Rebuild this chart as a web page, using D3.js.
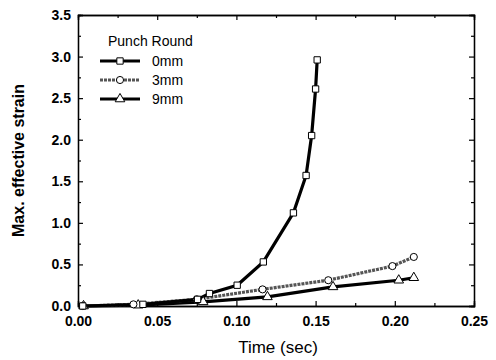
<!DOCTYPE html>
<html>
  <head>
    <meta charset="utf-8">
    <script src="https://cdn.jsdelivr.net/npm/d3@7"></script>
    <style>
      body { margin: 0; background: #fff; }
      text { font-family: "Liberation Sans", Arial, sans-serif; }
    </style>
  </head>
  <body>
    <script>
      // Data: [time (sec), max. effective strain]
      var seriesNames = ["0mm", "3mm", "9mm"];
      var punch0 = [[0.003, 0], [0.041, 0.02], [0.0755, 0.08], [0.083, 0.15],
                    [0.1005, 0.25], [0.117, 0.53], [0.136, 1.12], [0.144, 1.57],
                    [0.1475, 2.05], [0.150, 2.61], [0.151, 2.96]];
      var punch3 = [[0.003, 0], [0.035, 0.02], [0.075, 0.08], [0.1165, 0.20],
                    [0.158, 0.31], [0.1985, 0.48], [0.212, 0.59]];
      var punch9 = [[0.0035, 0], [0.038, 0.01], [0.079, 0.05], [0.1196, 0.11],
                    [0.161, 0.23], [0.2025, 0.31], [0.212, 0.34]];
      var xTicks = [0, 0.05, 0.10, 0.15, 0.20, 0.25];
      var yTicks = [0, 0.5, 1.0, 1.5, 2.0, 2.5, 3.0, 3.5];

      var width = 496, height = 360;
      var margin = {top: 15, right: 22, bottom: 54, left: 78};

      var svg = d3.select("body").append("svg")
        .attr("width", width).attr("height", height);

      var x = d3.scaleLinear().domain([0, 0.25])
        .range([margin.left, width - margin.right]);
      var y = d3.scaleLinear().domain([0, 3.5])
        .range([height - margin.bottom, margin.top]);

      // Minor ticks halfway between the labelled ones
      var xMinor = d3.range(0.025, 0.25, 0.05);
      var yMinor = d3.range(0.25, 3.5, 0.5);

      function tickAxis(axis, ticks, size) {
        return axis.tickValues(ticks).tickSize(size).tickFormat("");
      }

      // Bottom axis with labels
      svg.append("g")
        .attr("transform", "translate(0," + y(0) + ")")
        .call(d3.axisBottom(x).tickValues(xTicks).tickSize(-5).tickPadding(10)
          .tickFormat(d3.format(".2f")));
      svg.append("g").attr("transform", "translate(0," + y(0) + ")")
        .call(tickAxis(d3.axisBottom(x), xMinor, -3));

      // Left axis with labels
      svg.append("g")
        .attr("transform", "translate(" + x(0) + ",0)")
        .call(d3.axisLeft(y).tickValues(yTicks).tickSize(-5).tickPadding(7)
          .tickFormat(d3.format(".1f")));
      svg.append("g").attr("transform", "translate(" + x(0) + ",0)")
        .call(tickAxis(d3.axisLeft(y), yMinor, -3));

      // Mirrored ticks on top and right
      svg.append("g").attr("transform", "translate(0," + y(3.5) + ")")
        .call(tickAxis(d3.axisTop(x), xTicks, -5));
      svg.append("g").attr("transform", "translate(0," + y(3.5) + ")")
        .call(tickAxis(d3.axisTop(x), xMinor, -3));
      svg.append("g").attr("transform", "translate(" + x(0.25) + ",0)")
        .call(tickAxis(d3.axisRight(y), yTicks, -5));
      svg.append("g").attr("transform", "translate(" + x(0.25) + ",0)")
        .call(tickAxis(d3.axisRight(y), yMinor, -3));

      svg.selectAll(".domain").attr("stroke", "#000").attr("stroke-width", 1.3);
      svg.selectAll(".tick line").attr("stroke", "#000").attr("stroke-width", 1.2);
      svg.selectAll(".tick text")
        .attr("fill", "#000")
        .style("font-family", "'Liberation Sans', Arial, sans-serif")
        .style("font-size", "14px").style("font-weight", "bold");

      // Axis titles
      svg.append("text")
        .attr("x", (x(0) + x(0.25)) / 2 + 2).attr("y", 353)
        .attr("text-anchor", "middle").style("font-size", "17px")
        .text("Time (sec)");
      svg.append("text")
        .attr("transform", "translate(24," + (y(1.75)) + ") rotate(-90)")
        .attr("text-anchor", "middle").style("font-size", "16px")
        .style("font-weight", "bold")
        .text("Max. effective strain");

      // Series styles
      var series = [
        {name: seriesNames[0], data: punch0, color: "#000", dash: null, shape: d3.symbolSquare},
        {name: seriesNames[1], data: punch3, color: "#555", dash: "3,1", shape: d3.symbolCircle},
        {name: seriesNames[2], data: punch9, color: "#000", dash: null, shape: d3.symbolTriangle}
      ];

      var line = d3.line()
        .x(function(d) { return x(d[0]); })
        .y(function(d) { return y(d[1]); });

      // Draw the bottom-most series last so overlaps look like the picture
      [2, 1, 0].forEach(function(i) {
        var s = series[i];
        svg.append("path").datum(s.data)
          .attr("d", line).attr("fill", "none")
          .attr("stroke", s.color).attr("stroke-width", 3.2)
          .attr("stroke-dasharray", s.dash);
      });
      [2, 1, 0].forEach(function(i) {
        var s = series[i];
        svg.selectAll(null).data(s.data).enter().append("path")
          .attr("transform", function(d) {
            return "translate(" + x(d[0]) + "," + y(d[1]) + ")";
          })
          .attr("d", d3.symbol().type(s.shape).size(40))
          .attr("fill", "#fff").attr("stroke", "#000").attr("stroke-width", 1);
      });

      // Legend
      var legend = svg.append("g").attr("transform", "translate(100,0)");
      legend.append("text").attr("x", 8).attr("y", 46)
        .style("font-size", "14px").text("Punch Round");
      series.forEach(function(s, i) {
        var ly = 61 + i * 19;
        legend.append("line")
          .attr("x1", 0).attr("x2", 40).attr("y1", ly).attr("y2", ly)
          .attr("stroke", s.color).attr("stroke-width", 3.2)
          .attr("stroke-dasharray", s.dash);
        legend.append("path")
          .attr("transform", "translate(20," + ly + ")")
          .attr("d", d3.symbol().type(s.shape).size(40))
          .attr("fill", "#fff").attr("stroke", "#000").attr("stroke-width", 1);
        legend.append("text").attr("x", 52).attr("y", ly + 5)
          .style("font-size", "14px").text(s.name);
      });
    </script>
  </body>
</html>
